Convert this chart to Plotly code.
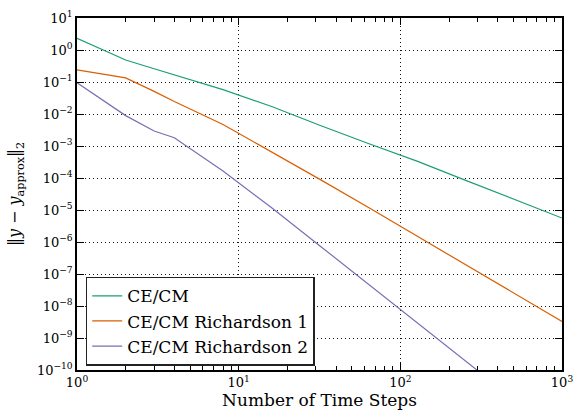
import plotly.graph_objects as go

# Data
steps = [1, 2, 3, 4, 8, 16, 32, 64, 128, 256, 512, 1000]
err_cecm = [2.32, 0.485, 0.26, 0.168, 0.058, 0.0172, 0.00437, 0.00118, 3.3e-4, 8.3e-5, 2.14e-5, 5.6e-6]
err_rich1 = [0.24, 0.134, 0.051, 0.0245, 0.0047, 6.6e-4, 8.9e-5, 1.17e-5, 1.48e-6, 1.9e-7, 2.45e-8, 3.3e-9]
err_rich2 = [0.094, 0.0089, 0.00295, 0.00182, 1.66e-4, 1.17e-5, 7.4e-7, 4.7e-8, 2.9e-9, 1.78e-10, 1.12e-11, 7.9e-13]

series_names = ["CE/CM", "CE/CM Richardson 1", "CE/CM Richardson 2"]
series_colors = ["#1b9e77", "#d95f02", "#7570b3"]

x_tickvals = [1, 10, 100, 1000]
x_ticktext = ["10<sup>0</sup>", "10<sup>1</sup>", "10<sup>2</sup>", "10<sup>3</sup>"]
y_exps = list(range(1, -11, -1))
y_tickvals = [10.0 ** e for e in y_exps]
y_ticktext = ["10<sup>%s</sup>" % (str(e).replace("-", "−")) for e in y_exps]

FONT = "DejaVu Serif"

fig = go.Figure()
for name, ys, col in zip(series_names, [err_cecm, err_rich1, err_rich2], series_colors):
    fig.add_trace(go.Scatter(x=steps, y=ys, mode="lines", name=name,
                             line=dict(color=col, width=1.2)))

fig.update_layout(
    width=583, height=416,
    margin=dict(l=77, r=21, t=9, b=46),
    plot_bgcolor="white", paper_bgcolor="white",
    font=dict(family=FONT, color="black", size=13),
    showlegend=True,
    legend=dict(x=0.018, y=0.012, xanchor="left", yanchor="bottom",
                bordercolor="#222", borderwidth=1.5, bgcolor="white",
                font=dict(family=FONT, size=17), tracegroupgap=0,
                itemwidth=30),
)
grid_common = dict(showgrid=True, gridcolor="#111", griddash="1px,3px", gridwidth=1,
                   ticks="inside", ticklen=7, tickwidth=1, tickcolor="black",
                   showline=True, linecolor="black", linewidth=1.5, mirror="allticks",
                   zeroline=False, tickfont=dict(family=FONT, size=13))
fig.update_xaxes(
    type="log", range=[0, 3],
    tickvals=x_tickvals, ticktext=x_ticktext,
    minor=dict(ticks="inside", ticklen=4, tickcolor="black", showgrid=False,
               tickvals=[m * 10 ** d for d in range(3) for m in range(2, 10)]),
    title=dict(text="Number of Time Steps", font=dict(family=FONT, size=17), standoff=2),
    **grid_common,
)
fig.update_yaxes(
    type="log", range=[-10, 1],
    tickvals=y_tickvals, ticktext=y_ticktext,
    title=dict(text="‖<i>y</i> − <i>y</i><sub>approx</sub>‖<sub>2</sub>",
               font=dict(family=FONT, size=16), standoff=12),
    **grid_common,
)

fig.write_html("out.html")
